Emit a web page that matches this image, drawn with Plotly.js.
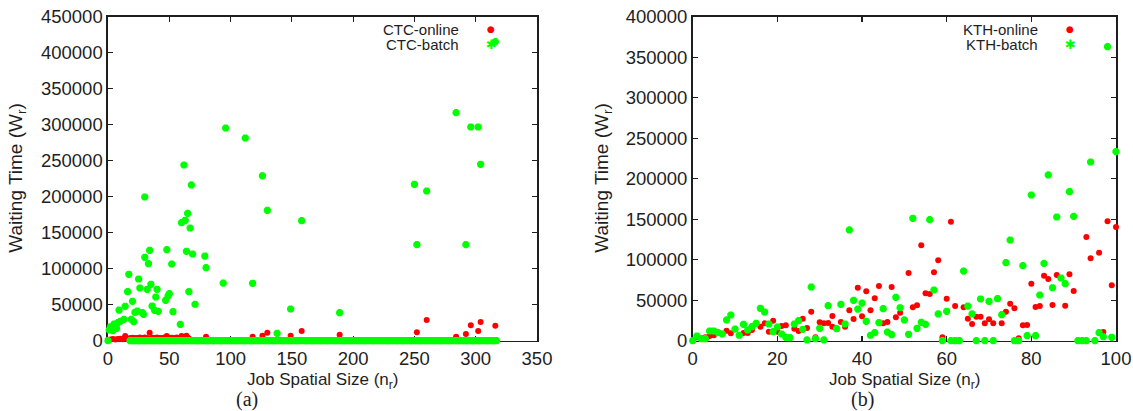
<!DOCTYPE html>
<html>
<head>
<meta charset="utf-8">
<script src="https://cdn.plot.ly/plotly-3.0.1.min.js"></script>
<style>
  html, body { margin: 0; padding: 0; background: #fff; }
  #chart { width: 1133px; height: 411px; }
</style>
</head>
<body>
<div id="chart"></div>
<script>
// ---- CTC: waiting time vs. job spatial size ----
const ctcOnlineSize = [0, 2, 4, 6, 8, 10, 12, 14, 16, 18, 20, 22, 24, 26, 28, 30, 32, 34, 36, 38,
  40, 42, 44, 46, 48, 50, 52, 54, 56, 58, 60, 62, 64, 65, 66, 80, 118, 126, 130, 149,
  158, 189, 252, 260, 284, 292, 296, 302, 304, 316];
const ctcOnlineWait = [1200, 1800, 2400, 1600, 2200, 2800, 1900, 6500, 2500, 3700, 4200, 3600, 3900, 4400, 3800, 4300, 3700, 11100, 4100, 3600,
  4500, 3900, 3700, 4400, 6500, 3800, 4200, 3600, 4600, 3900, 6500, 4000, 7000, 4200, 2900, 5600, 5600, 7000, 11100, 7000,
  13500, 8300, 11700, 28700, 5600, 9300, 21400, 13500, 26000, 20800];

// batch jobs that had to wait
const ctcBatchSize = [0, 1, 2, 4, 5, 7, 8, 9, 10, 13, 14, 16, 17, 19, 20, 21, 22, 24, 25, 26,
  28, 29, 30, 30, 32, 33, 34, 35, 36, 38, 39, 40, 41, 47, 48, 49, 50, 52, 53, 59,
  60, 62, 63, 64, 65, 66, 67, 68, 69, 71, 79, 80, 94, 96, 112, 118, 126, 130, 138, 149,
  158, 189, 250, 252, 260, 284, 292, 296, 302, 304, 316];
const ctcBatchWait = [0, 14900, 19400, 13900, 23200, 17200, 25000, 42600, 26900, 29700, 47800, 68100, 92200, 29700, 54700, 26400, 39400, 41200, 85700, 73200,
  38900, 36700, 115800, 199600, 71400, 107000, 125500, 78300, 48200, 42200, 60700, 71400, 40800, 56100, 126400, 62100, 65300, 106500, 40300, 22800,
  163900, 244000, 167200, 124200, 176900, 68100, 156500, 216300, 120400, 50600, 117600, 101400, 80100, 295400, 281500, 79700, 229000, 181100, 10300, 44000,
  166700, 38900, 217200, 133400, 207900, 316700, 133400, 296800, 296800, 245000, 415300];

// batch jobs that started without waiting
const ctcBatchIdleSize = [18, 20, 21, 23, 25, 26, 28, 30, 31, 33, 35, 37, 38, 40, 42, 43, 45, 47, 49, 50,
  52, 54, 55, 57, 59, 61, 62, 64, 66, 68, 69, 71, 73, 74, 76, 78, 80, 81, 83, 85,
  86, 88, 90, 92, 93, 95, 97, 99, 100, 102, 104, 105, 107, 109, 111, 112, 114, 116, 117, 119,
  121, 123, 124, 126, 128, 130, 131, 133, 135, 136, 138, 140, 142, 143, 145, 147, 148, 150, 152, 154,
  155, 157, 159, 161, 162, 164, 166, 167, 169, 171, 173, 174, 176, 178, 179, 181, 183, 185, 186, 188,
  190, 192, 193, 195, 197, 198, 200, 202, 204, 205, 207, 209, 210, 212, 214, 216, 217, 219, 221, 223,
  224, 226, 228, 229, 231, 233, 235, 236, 238, 240, 241, 243, 245, 247, 248, 250, 252, 254, 255, 257,
  259, 260, 262, 264, 266, 267, 269, 271, 272, 274, 276, 278, 279, 281, 283, 285, 286, 288, 290, 291,
  293, 295, 297, 298, 300, 302, 303, 305, 307, 309, 310, 312, 314, 315, 317];
const ctcBatchIdleWait = [0, 0, 0, 0, 0, 0, 0, 0, 0, 0, 0, 0, 0, 0, 0, 0, 0, 0, 0, 0,
  0, 0, 0, 0, 0, 0, 0, 0, 0, 0, 0, 0, 0, 0, 0, 0, 0, 0, 0, 0,
  0, 0, 0, 0, 0, 0, 0, 0, 0, 0, 0, 0, 0, 0, 0, 0, 0, 0, 0, 0,
  0, 0, 0, 0, 0, 0, 0, 0, 0, 0, 0, 0, 0, 0, 0, 0, 0, 0, 0, 0,
  0, 0, 0, 0, 0, 0, 0, 0, 0, 0, 0, 0, 0, 0, 0, 0, 0, 0, 0, 0,
  0, 0, 0, 0, 0, 0, 0, 0, 0, 0, 0, 0, 0, 0, 0, 0, 0, 0, 0, 0,
  0, 0, 0, 0, 0, 0, 0, 0, 0, 0, 0, 0, 0, 0, 0, 0, 0, 0, 0, 0,
  0, 0, 0, 0, 0, 0, 0, 0, 0, 0, 0, 0, 0, 0, 0, 0, 0, 0, 0, 0,
  0, 0, 0, 0, 0, 0, 0, 0, 0, 0, 0, 0, 0, 0, 0];

// ---- KTH: waiting time vs. job spatial size ----
const kthOnlineSize = [1, 2, 3, 4, 5, 8, 9, 12, 13, 14, 16, 17, 18, 19, 20, 21, 22, 24, 25, 26,
  27, 28, 29, 30, 31, 32, 33, 33, 35, 36, 37, 38, 39, 40, 41, 42, 43, 44, 45, 46,
  47, 48, 49, 51, 52, 53, 54, 55, 56, 57, 58, 59, 60, 61, 62, 64, 65, 66, 67, 68,
  69, 70, 71, 73, 74, 75, 76, 77, 78, 79, 80, 81, 82, 83, 84, 85, 86, 88, 89, 90,
  93, 94, 96, 97, 98, 99, 100];
const kthOnlineWait = [4200, 3000, 4200, 5800, 6700, 12300, 9100, 9500, 9500, 13200, 17300, 21500, 11100, 24700, 11100, 18100, 19000, 14800, 12000, 27200,
  15700, 35800, 4200, 22700, 21500, 21900, 30500, 17300, 23100, 17300, 37500, 26800, 65400, 30100, 61000, 37500, 52300, 67500, 21500, 23100,
  66300, 28900, 34600, 83600, 41200, 43700, 117800, 58500, 57700, 84400, 99200, 4200, 51900, 146900, 42800, 41200, 27200, 20600, 29600, 29600,
  21500, 26400, 21500, 21500, 35800, 45700, 40000, 3000, 19000, 19400, 70400, 41600, 42800, 80300, 76200, 44100, 81100, 43200, 82000, 61400,
  128000, 101700, 108600, 10700, 147400, 68400, 140400];

const kthBatchSize = [0, 1, 2, 3, 4, 5, 6, 7, 8, 9, 10, 11, 12, 13, 14, 15, 16, 17, 18, 19,
  20, 21, 22, 23, 24, 25, 26, 27, 28, 29, 30, 31, 32, 34, 35, 36, 37, 38, 39, 40,
  41, 42, 43, 44, 45, 46, 47, 48, 49, 50, 51, 52, 53, 54, 55, 56, 57, 58, 59, 60,
  61, 62, 63, 64, 65, 66, 67, 68, 69, 70, 71, 72, 73, 74, 75, 76, 77, 78, 79, 80,
  81, 82, 83, 84, 85, 86, 87, 88, 89, 90, 91, 92, 93, 94, 95, 96, 97, 98, 99, 100];
const kthBatchWait = [0, 5800, 2500, 2500, 12000, 12000, 9900, 8300, 25600, 31700, 14400, 6700, 20200, 13200, 17300, 21500, 40000, 35400, 20600, 11100,
  16900, 8300, 4200, 3700, 20600, 24700, 14100, 900, 66300, 2500, 15300, 900, 43200, 14800, 44900, 20600, 136700, 49900, 39100, 46500,
  23900, 6700, 9900, 22200, 39500, 10700, 7400, 53600, 40700, 25600, 7900, 151100, 15300, 22700, 20200, 149400, 62600, 33000, 0, 36300,
  0, 0, 0, 86000, 42800, 33000, 0, 51500, 0, 48600, 0, 51900, 32100, 96300, 124300, 0, 0, 92600, 6200, 179900,
  6200, 56400, 95500, 204600, 65400, 152700, 77400, 70400, 184000, 153500, 0, 0, 0, 220600, 0, 9900, 4900, 363000, 4200, 233400];

const legendNames = [['CTC-online', 'CTC-batch'], ['KTH-online', 'KTH-batch']];
const xTitle = 'Job Spatial Size (n<sub>r</sub>)';
const yTitle = 'Waiting Time (W<sub>r</sub>)';
const panelTags = ['(a)', '(b)'];

// ---- styling ----
const W = 1133, H = 411;
const RED = '#ff0000', GREEN = '#00ff00', INK = '#1e1e1e';
const SANS = 'Liberation Sans, Arial, Helvetica, sans-serif';
const SERIF = 'Liberation Serif, DejaVu Serif, serif';
const TICK_SIZE = 18.5, XTITLE_SIZE = 17, YTITLE_SIZE = 19, KEY_SIZE = 15;

const onlineMarker = { symbol: 'circle', size: 6, color: RED, line: { width: 0 } };
const batchMarker = { symbol: 'asterisk-open', size: 6, color: GREEN, line: { color: GREEN, width: 2.6 } };

function pts(x, y, xa, ya, marker, name) {
  return { type: 'scatter', mode: 'markers', x: x, y: y, xaxis: xa, yaxis: ya,
           marker: marker, name: name, cliponaxis: false, showlegend: false, hoverinfo: 'x+y' };
}

const traces = [
  pts(ctcOnlineSize, ctcOnlineWait, 'x', 'y', onlineMarker, legendNames[0][0]),
  pts(ctcBatchSize.concat(ctcBatchIdleSize), ctcBatchWait.concat(ctcBatchIdleWait), 'x', 'y', batchMarker, legendNames[0][1]),
  pts(kthOnlineSize, kthOnlineWait, 'x2', 'y2', onlineMarker, legendNames[1][0]),
  pts(kthBatchSize, kthBatchWait, 'x2', 'y2', batchMarker, legendNames[1][1])
];

// plot frames in pixels
const frameL = { x0: 108, x1: 537 };
const frameR = { x0: 692.7, x1: 1116 };
const frameTop = 16.7, frameBottom = 340.7;
const px = v => v / W;
const py = v => 1 - v / H;

function axisX(domain, range, dtick, anchor) {
  return {
    domain: domain, range: range, dtick: dtick, tick0: 0, anchor: anchor,
    ticks: 'inside', ticklen: 5, tickwidth: 1.2, tickcolor: INK,
    showline: true, linecolor: INK, linewidth: 1.6, mirror: 'ticks',
    layer: 'below traces',
    showgrid: false, zeroline: false, fixedrange: true,
    tickfont: { family: SANS, size: TICK_SIZE, color: INK }
  };
}
function axisY(domain, range, dtick, anchor) {
  const a = axisX(domain, range, dtick, anchor);
  a.tickformat = 'd';
  return a;
}

const yDom = [py(frameBottom), py(frameTop)];

const annotations = [];
function addPanelText(frame, names, tag, tagX, yTitleX) {
  const cx = (frame.x0 + frame.x1) / 2;
  annotations.push({ xref: 'paper', yref: 'paper', x: px(cx), y: py(381), text: xTitle,
    showarrow: false, xanchor: 'center', yanchor: 'middle', font: { family: SANS, size: XTITLE_SIZE, color: INK } });
  annotations.push({ xref: 'paper', yref: 'paper', x: px(yTitleX), y: py((frameTop + frameBottom) / 2), text: yTitle,
    textangle: -90, showarrow: false, xanchor: 'center', yanchor: 'middle', font: { family: SANS, size: YTITLE_SIZE, color: INK } });
  annotations.push({ xref: 'paper', yref: 'paper', x: px(tagX), y: py(399), text: tag,
    showarrow: false, xanchor: 'center', yanchor: 'middle', font: { family: SERIF, size: 20, color: INK } });
  // key: label text right-aligned, sample symbol to its right
  const textRight = frame.x1 - 76;
  const keyX = frame.x1 - 46;
  [[names[0], 29.3, '●', RED, 9], [names[1], 44.3, '✱', GREEN, 13]].forEach(function (k) {
    annotations.push({ xref: 'paper', yref: 'paper', x: px(textRight), y: py(k[1]), text: k[0],
      showarrow: false, xanchor: 'right', yanchor: 'middle', font: { family: SANS, size: KEY_SIZE, color: INK } });
    annotations.push({ xref: 'paper', yref: 'paper', x: px(keyX), y: py(k[1]), text: k[2],
      showarrow: false, xanchor: 'center', yanchor: 'middle', font: { family: 'DejaVu Sans', size: k[4], color: k[3] } });
  });
}
addPanelText(frameL, legendNames[0], panelTags[0], 247, 17);
addPanelText(frameR, legendNames[1], panelTags[1], 862, 603);

const layout = {
  width: W, height: H,
  margin: { l: 0, r: 0, t: 0, b: 0, pad: 0 },
  paper_bgcolor: '#ffffff', plot_bgcolor: '#ffffff',
  showlegend: false,
  xaxis: axisX([px(frameL.x0), px(frameL.x1)], [0, 350], 50, 'y'),
  yaxis: axisY(yDom, [0, 450000], 50000, 'x'),
  xaxis2: axisX([px(frameR.x0), px(frameR.x1)], [0, 100], 20, 'y2'),
  yaxis2: axisY(yDom, [0, 400000], 50000, 'x2'),
  annotations: annotations
};

Plotly.newPlot('chart', traces, layout, { staticPlot: true, displayModeBar: false });
</script>
</body>
</html>
